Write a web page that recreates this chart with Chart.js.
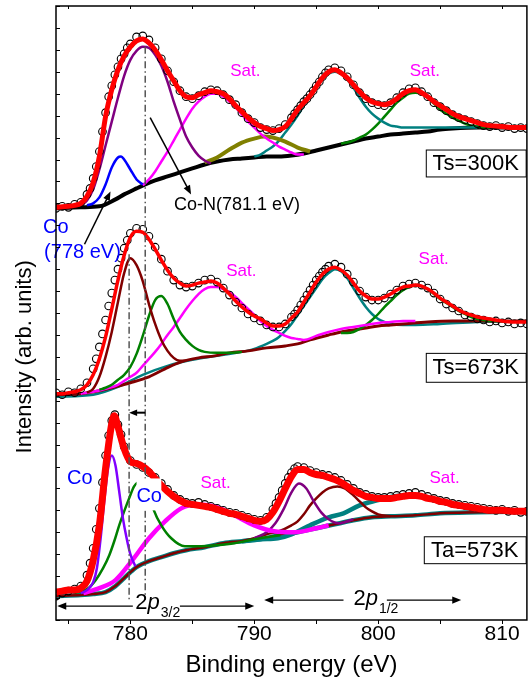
<!DOCTYPE html>
<html>
<head>
<meta charset="utf-8">
<script src="https://cdn.jsdelivr.net/npm/chart.js@4.4.0/dist/chart.umd.min.js"></script>
<style>
  html, body { margin: 0; padding: 0; background: #fff; }
  canvas { display: block; }
</style>
</head>
<body>
<canvas id="xps-chart" width="532" height="678"></canvas>
<script>
const FONT = '"Liberation Sans", Arial, sans-serif';

const xTicks = [780, 790, 800, 810];

// ---- Ts = 300 K (top spectrum) ----
const ts300Data = [[774,413],[774.5,415],[775,414],[775.5,417],[776,419],[776.5,427],[776.75,433],[777,443],[777.25,455],[777.5,470],[777.75,490],[778,509],[778.25,525],[778.5,536],[778.75,547],[779,555],[779.25,563],[779.5,568],[779.75,574],[780,578],[780.5,585],[781,586],[781.5,582],[782,574],[782.5,563],[783,551],[783.5,540],[784,531],[784.5,525],[785,523],[785.5,526],[786,530],[786.5,532],[787,531],[787.5,527],[788,522],[788.5,517],[789,509],[789.5,503],[790,499],[790.5,494],[791,492],[791.5,491],[792,493],[792.5,497],[793,504],[793.25,508],[793.5,512],[793.75,516],[794,520],[794.25,523],[794.5,527],[794.75,531],[795,536],[795.25,540],[795.5,545],[795.75,549],[796,552],[796.5,554],[797,551],[797.5,545],[798,537],[798.5,529],[799,523],[799.5,519],[800,517],[800.5,516],[801,519],[801.5,524],[802,529],[802.5,533],[803,534],[803.5,530],[804,525],[804.5,519],[805,515],[805.5,511],[806,507],[806.5,504],[807,502],[807.5,500],[808,498],[808.5,496],[809,495],[809.5,496],[810,494],[810.5,495],[811,493],[811.5,494],[812,493]];
const ts300Fit = [[774,414],[775,415],[775.5,416],[776,418],[776.5,425],[777,439],[777.5,465],[778,505],[778.5,532],[779,552],[779.5,566],[780,575],[780.5,581],[781,583],[781.5,579],[782,572],[782.5,562],[783,551],[783.5,541],[784,531],[784.5,525],[785,524],[785.5,527],[786,529],[786.5,531],[787,530],[787.5,528],[788,523],[788.5,516],[789,510],[789.5,504],[790,499],[790.5,495],[791,493],[791.5,491],[792,492],[792.5,495],[793,503],[793.5,512],[794,519],[794.5,526],[795,535],[795.5,544],[796,550],[796.5,552],[797,549],[797.5,544],[798,537],[798.5,530],[799,524],[799.5,520],[800,518],[800.5,517],[801,519],[801.5,523],[802,528],[802.5,531],[803,532],[803.5,529],[804,525],[804.5,520],[805,516],[805.5,512],[806,508],[806.5,505],[807,503],[807.5,501],[808,499],[808.5,497],[809,496],[810,495],[811,494],[812,494]];
const ts300Bg = [[774,413],[776,414],[777.5,415],[778.8,422],[779.5,427],[780.5,433],[781.2,437],[782,441],[783,445],[784,449],[785,453],[786,457],[787,460],[788,462],[789,463],[790,464],[791,465],[792,465],[793,466],[794,468],[795,471],[796,474],[797,477],[798,480],[799,483],[800,485],[801,487],[802,488],[803,489],[804,490],[805,492],[806,493],[808,494],[812,494]];
const ts300Co = [[776.5,416],[777,418],[777.5,424],[778,437],[778.5,454],[779,464],[779.25,465],[779.5,462],[780,452],[780.5,442],[781,437]];
const ts300CoN = [[776,416],[776.5,421],[777,432],[777.5,452],[778,476],[778.5,500],[779,524],[779.5,546],[780,562],[780.5,571],[781,575],[781.5,574],[782,567],[782.5,556],[783,540],[783.5,520],[784,502],[784.5,485],[785,474],[785.5,466],[786,461],[786.5,458]];
const ts300Sat = [[781,436],[781.5,442],[782,450],[782.5,460],[783,470],[783.5,481],[784,492],[784.5,503],[785,513],[785.5,520],[786,525],[786.5,528],[787,528],[787.5,525],[788,520],[788.5,514],[789,507],[789.5,500],[790,494],[790.5,488],[791,483],[791.5,479],[792,475],[792.5,472],[793,469],[793.5,467],[794,467]];
const ts300Loss = [[786,459],[787,464],[788,472],[789,479],[790,483],[790.8,485],[791.5,484],[792.5,480],[793.5,474],[794.5,470]];
const ts300P12 = [[790,465],[790.5,467],[791,471],[791.5,475],[792,481],[792.5,489],[793,497],[793.5,506],[794,516],[794.5,525],[795,534],[795.5,542],[796,548],[796.5,550],[797,548],[797.5,542],[798,534],[798.5,524],[799,515],[799.5,508],[800,503],[800.5,499],[801,496],[801.5,495],[802,494],[804,494],[806,494],[808,494]];
const ts300SatP12 = [[797,478],[797.5,479],[798,481],[798.5,484],[799,487],[799.5,492],[800,498],[800.5,505],[801,512],[801.5,519],[802,524],[802.5,528],[803,529],[803.5,528],[804,524],[804.5,518],[805,512],[805.5,508],[806,504],[806.5,501],[807,498],[807.5,496],[808,495],[808.5,494],[809,494]];

// ---- Ts = 673 K (middle spectrum) ----
const ts673Data = [[774,228],[774.5,226],[775,229],[775.5,228],[776,232],[776.5,238],[777,252],[777.25,262],[777.5,274],[777.75,287],[778,301],[778.25,315],[778.5,328],[778.75,341],[779,352],[779.25,363],[779.5,373],[779.75,381],[780,388],[780.5,393],[781,392],[781.5,385],[782,374],[782.5,362],[783,350],[783.5,341],[784,336],[784.5,334],[785,335],[785.5,338],[786,341],[786.5,342],[787,339],[787.5,333],[788,326],[788.5,319],[789,313],[789.5,307],[790,303],[790.5,300],[791,296],[791.5,294],[792,294],[792.5,297],[793,304],[793.25,307],[793.5,311],[793.75,316],[794,321],[794.25,326],[794.5,331],[794.75,336],[795,341],[795.25,345],[795.5,349],[795.75,352],[796,355],[796.5,357],[797,354],[797.5,347],[798,339],[798.5,330],[799,324],[799.5,321],[800,321],[800.5,323],[801,327],[801.5,331],[802,335],[802.5,337],[803,338],[803.5,336],[804,333],[804.5,328],[805,322],[805.5,317],[806,313],[806.5,310],[807,306],[807.5,304],[808,302],[808.5,301],[809,299],[809.5,300],[810,298],[810.5,299],[811,297],[811.5,298],[812,297]];
const ts673Fit = [[774,227],[774.5,227],[775,228],[775.5,229],[776,231],[776.5,236],[777,246],[777.5,262],[778,284],[778.5,312],[779,341],[779.5,366],[780,384],[780.5,390],[781,389],[781.5,382],[782,372],[782.5,361],[783,351],[783.5,343],[784,338],[784.5,335],[785,336],[785.5,338],[786,339],[786.5,340],[787,338],[787.5,333],[788,327],[788.5,320],[789,314],[789.5,309],[790,305],[790.5,302],[791,298],[791.5,295],[792,295],[792.5,297],[793,303],[793.5,309],[794,319],[794.5,329],[795,339],[795.5,347],[796,352],[796.5,354],[797,351],[797.5,346],[798,338],[798.5,330],[799,325],[799.5,322],[800,322],[800.5,324],[801,327],[801.5,331],[802,334],[802.5,335],[803,336],[803.5,335],[804,332],[804.5,328],[805,323],[805.5,319],[806,315],[806.5,311],[807,308],[807.5,306],[808,304],[808.5,303],[809,302],[810,300],[811,299],[812,299]];
const ts673Bg = [[774,226],[776,227],[777.5,230],[778.8,234],[780,238],[781.5,244],[782.8,252],[784.1,259],[785.5,263],[786.8,265],[788,268],[789.5,270],[791,273],[792.5,275],[793.5,277],[794.5,281],[796,286],[797,289],[798,291],[799,293],[800,295],[801,296],[802,297],[804,299],[806,300],[812,300]];
const ts673Main = [[776.5,228],[777,232],[777.5,244],[778,264],[778.5,289],[779,319],[779.5,348],[780,363],[780.5,356],[781,340],[781.5,317],[782,297],[782.5,281],[783,270],[783.5,263],[784,260],[784.5,260]];
const ts673Second = [[777.5,231],[778,233],[778.5,236],[779,241],[779.5,246],[780,254],[780.5,267],[781,285],[781.5,305],[782,321],[782.5,325],[783,317],[783.5,302],[784,289],[784.5,281],[785,275],[785.5,271],[786,269],[787,268],[788,268],[789,269]];
const ts673Sat = [[776,227],[777,229],[778,232],[779,236],[780,244],[780.5,248],[781,255],[781.5,262],[782,269],[782.5,277],[783,286],[783.5,294],[784,303],[784.5,312],[785,320],[785.5,327],[786,332],[786.5,334],[787,334],[787.5,332],[788,329],[788.5,324],[789,318],[789.5,312],[790,306],[790.5,300],[791,295],[791.5,291],[792,288],[792.5,285],[793,283],[793.5,282],[794,281],[795,285],[796,289],[797,292],[798,294],[799,296],[800,298],[801,299],[802,300],[803,300]];
const ts673P12 = [[774,224],[777,226],[779,234],[781,246],[783,255],[785,261],[787,265],[789,269],[790,272],[791,277],[791.5,280],[792,284],[792.5,290],[793,297],[793.5,306],[794,315],[794.5,324],[795,333],[795.5,342],[796,348],[796.5,352],[797,350],[797.5,343],[798,333],[798.5,323],[799,314],[799.5,307],[800,302],[800.5,299],[801,297],[802,296],[803,296],[805,297],[808,299],[812,300]];
const ts673SatP12 = [[797,288],[797.5,288],[798,289],[798.5,292],[799,296],[799.5,301],[800,307],[800.5,314],[801,320],[801.5,326],[802,331],[802.5,334],[803,336],[803.5,335],[804,332],[804.5,327],[805,322],[805.5,318],[806,314],[806.5,310],[807,307],[807.5,304],[808,302],[808.5,301],[809,300],[810,300]];

// ---- Ta = 573 K (bottom spectrum) ----
const ta573Data = [[774,24],[774.5,27],[775,29],[775.5,31],[776,34],[776.5,45],[776.75,57],[777,72],[777.25,91],[777.5,112],[777.75,138],[778,165],[778.25,185],[778.5,200],[778.75,206],[779,196],[779.25,186],[779.5,174],[780,160],[780.5,156],[781,153],[781.5,148],[782,143],[782.5,137],[783,131],[783.5,125],[784,121],[784.5,118],[785,117],[785.5,118],[786,116],[786.5,114],[787,112],[787.5,110],[788,108],[788.5,107],[789,105],[789.5,103],[790,101],[790.5,100],[791,103],[791.5,111],[791.75,117],[792,123],[792.25,130],[792.5,137],[792.75,143],[793,148],[793.25,152],[793.5,154],[794,153],[794.5,150],[795,148],[795.5,146],[796,145],[796.5,143],[797,140],[797.5,136],[798,132],[798.5,128],[799,126],[799.5,124],[800,123],[800.5,123],[801,124],[801.5,125],[802,126],[802.5,127],[803,128],[803.5,126],[804,124],[804.5,122],[805,120],[805.5,119],[806,117],[806.5,116],[807,115],[807.5,114],[808,113],[808.5,112],[809,111],[809.5,110],[810,111],[810.5,109],[811,110],[811.5,108],[812,109]];
const ta573Fit = [[774,28],[774.5,29],[775,30],[775.5,30],[776,32],[776.5,39],[777,60],[777.5,95],[778,152],[778.5,197],[778.7,205],[779,194],[779.5,172],[780,159],[780.5,157],[781,154],[781.5,149],[782,142],[782.5,135],[783,129],[783.5,124],[784,120],[784.5,117],[785,116],[785.5,115],[786,114],[786.5,113],[787,111],[787.5,109],[788,107],[788.5,106],[789,104],[789.5,102],[790,100],[790.5,99],[791,101],[791.5,108],[792,119],[792.5,132],[793,144],[793.5,151],[794,151],[794.5,148],[795,146],[795.5,145],[796,143],[796.5,141],[797,138],[797.5,134],[798,130],[798.5,127],[799,124],[799.5,123],[800,122],[801,122],[801.5,123],[802,124],[802.5,125],[803,125],[803.5,124],[804,122],[804.5,121],[805,119],[805.5,118],[806,116],[806.5,115],[807,114],[807.5,113],[808,112],[808.5,111],[809,110],[810,110],[811,109],[812,109]];
const ta573Bg = [[774,24],[776,25],[777,26],[778,28],[778.8,34],[779.5,42],[780.1,49],[780.5,53],[781.5,59],[782.5,63],[783.5,67],[784.5,70],[786,73],[787.5,77],[789,79],[790.5,81],[792,85],[793.5,88],[795,92],[796.5,96],[798,100],[799.5,103],[801,104],[803,105],[805,107],[808,108],[812,109]];
const ta573Co = [[776,27],[776.5,30],[777,38],[777.3,52],[777.6,82],[777.9,120],[778.2,152],[778.5,165],[778.8,155],[779.1,129],[779.4,102],[779.7,82],[780,66],[780.4,54]];
const ta573Second = [[775.5,27],[776.5,31],[777.2,40],[777.8,52],[778.3,65],[778.7,79],[779.1,95],[779.5,109],[779.9,122],[780.3,134],[780.7,139],[781.1,140],[781.5,128],[781.9,110],[782.5,95],[783.3,82],[784.4,74],[785.7,74],[787,75],[788.4,77],[790,81],[792.1,85]];
const ta573Sat = [[776.2,27],[777.5,32],[778.8,40],[780.1,59],[781.5,82],[782.8,99],[784.1,112],[785.2,116],[786.8,114],[788.4,105],[790,95],[791.6,89],[793.2,88],[795,92],[796,95]];
const ta573CoP12 = [[790,82],[791,88],[791.7,97],[792.4,112],[793,128],[793.6,137],[794.2,132],[794.8,119],[795.4,108],[796,101],[796.8,97],[798,101]];
const ta573SecondP12 = [[789,79],[790,82],[791,86],[792,89],[793,95],[793.5,99],[794,106],[794.5,115],[795,122],[795.5,128],[796,132],[796.7,134],[797.3,132],[798,125],[798.5,119],[799,113],[799.5,109],[800,106],[801,104]];
const ta573SatP12 = [[789,79],[790.5,81],[791.9,82],[793,86],[794.5,95],[796,103],[797.2,107],[798.5,115],[799.9,120],[801.2,124],[802,125],[803.1,125],[804,123],[804.7,120],[805.8,117],[806.8,114],[808,111],[808.9,110],[810,109],[812,109]];

const pts = arr => arr.map(([x, y]) => ({ x, y }));

function curve(arr, color, width, order = 4) {
  return {
    data: pts(arr), showLine: true, borderColor: color, borderWidth: width,
    pointRadius: 0, cubicInterpolationMode: 'monotone', fill: false, order
  };
}

function measured(arr) {
  return {
    data: pts(arr), showLine: false, pointRadius: 3.8, pointStyle: 'circle',
    pointBorderColor: '#000', pointBorderWidth: 1.1, pointBackgroundColor: 'rgba(0,0,0,0)', order: 2
  };
}

const RED = '#ff0000', BLUE = '#0000ff', PURPLE = '#800080', MAGENTA = '#ff00ff',
      OLIVE = '#808000', TEAL = '#008080', GREEN = '#008000', BROWN = '#800000', VIOLET = '#8000ff';

const datasets = [
  // 300 K
  curve(ts300Bg, '#000', 4, 6),
  curve(ts300Co, BLUE, 2.5),
  curve(ts300CoN, PURPLE, 2.5),
  curve(ts300Sat, MAGENTA, 2.5),
  curve(ts300Loss, OLIVE, 4),
  curve(ts300P12, TEAL, 2.5),
  curve(ts300SatP12, GREEN, 2.5),
  measured(ts300Data),
  curve(ts300Fit, RED, 5, 1),
  // 673 K
  curve(ts673P12, TEAL, 2.5, 6),
  curve(ts673Bg, BROWN, 3, 5),
  curve(ts673Main, BROWN, 2.5),
  curve(ts673Second, GREEN, 2.5),
  curve(ts673Sat, MAGENTA, 2.5),
  curve(ts673SatP12, GREEN, 2.5),
  measured(ts673Data),
  curve(ts673Fit, RED, 3.5, 1),
  // 573 K
  curve(ta573Bg, TEAL, 4.5, 6),
  curve(ta573Bg, BROWN, 2.5, 5),
  curve(ta573Co, VIOLET, 2.5),
  curve(ta573Second, GREEN, 2.5),
  curve(ta573Sat, MAGENTA, 4.5),
  curve(ta573CoP12, PURPLE, 2.5),
  curve(ta573SecondP12, BROWN, 2.5),
  curve(ta573SatP12, TEAL, 4.5),
  measured(ta573Data),
  curve(ta573Fit, RED, 7, 1)
];

// annotation text and arrows, in energy / intensity units
function arrowLine(ctx, x1, y1, x2, y2, head, width) {
  const ang = Math.atan2(y2 - y1, x2 - x1);
  ctx.lineWidth = width;
  ctx.beginPath();
  ctx.moveTo(x1, y1);
  ctx.lineTo(x2 - Math.cos(ang) * head * 0.8, y2 - Math.sin(ang) * head * 0.8);
  ctx.stroke();
  ctx.beginPath();
  ctx.moveTo(x2, y2);
  ctx.lineTo(x2 - head * Math.cos(ang) + head * 0.4 * Math.sin(ang), y2 - head * Math.sin(ang) - head * 0.4 * Math.cos(ang));
  ctx.lineTo(x2 - head * Math.cos(ang) - head * 0.4 * Math.sin(ang), y2 - head * Math.sin(ang) + head * 0.4 * Math.cos(ang));
  ctx.closePath();
  ctx.fill();
}

function text(ctx, str, x, y, size, color, align = 'center') {
  ctx.font = size + 'px ' + FONT;
  ctx.fillStyle = color;
  ctx.textAlign = align;
  ctx.textBaseline = 'middle';
  ctx.fillText(str, x, y);
}

function term(ctx, x, base, sub) {
  ctx.fillStyle = '#000';
  ctx.textAlign = 'left';
  ctx.textBaseline = 'alphabetic';
  ctx.font = '22px ' + FONT;
  ctx.fillText('2', x, base);
  let w = ctx.measureText('2').width;
  ctx.font = 'italic 22px ' + FONT;
  ctx.fillText('p', x + w, base);
  w += ctx.measureText('p').width;
  ctx.font = '14px ' + FONT;
  ctx.fillText(sub, x + w + 1, base + 8);
}

const decor = {
  id: 'decor',
  afterDatasetsDraw(chart) {
    const { ctx, chartArea: a, scales: { x, y } } = chart;
    const X = v => x.getPixelForValue(v), Y = v => y.getPixelForValue(v);
    ctx.save();

    // dash-dot guides at the two 2p3/2 positions
    ctx.strokeStyle = '#555';
    ctx.lineWidth = 1.5;
    ctx.setLineDash([7, 3, 1.5, 3]);
    ctx.beginPath();
    ctx.moveTo(X(781.2), Y(575)); ctx.lineTo(X(781.2), Y(20));
    ctx.moveTo(X(779.9), Y(367)); ctx.lineTo(X(779.9), Y(20));
    ctx.stroke();
    ctx.setLineDash([]);

    ctx.strokeStyle = '#000';
    ctx.fillStyle = '#000';
    arrowLine(ctx, X(781.2), Y(208), X(779.9), Y(208), 8, 2);
    arrowLine(ctx, X(781.6), Y(504), X(784.9), Y(427), 9, 1.5);
    arrowLine(ctx, X(776.3), Y(377), X(778.4), Y(430), 9, 1.5);

    // spin-orbit ranges
    arrowLine(ctx, X(780.2), Y(14), X(774.1), Y(14), 9, 1.2);
    arrowLine(ctx, X(784.0), Y(14), X(790.0), Y(14), 9, 1.2);
    arrowLine(ctx, X(797.2), Y(20), X(790.8), Y(20), 9, 1.2);
    arrowLine(ctx, X(800.7), Y(20), X(806.7), Y(20), 9, 1.2);
    term(ctx, X(780.4), Y(11), '3/2');
    term(ctx, X(798.0), Y(15), '1/2');

    text(ctx, 'Co-N(781.1 eV)', X(783.52), Y(416), 18, '#000', 'left');
    text(ctx, 'Co', X(772.96), Y(394), 20, BLUE, 'left');
    text(ctx, '(778 eV)', X(773.04), Y(369), 20, BLUE, 'left');

    text(ctx, 'Sat.', X(789.28), Y(550), 17, MAGENTA);
    text(ctx, 'Sat.', X(803.76), Y(550), 17, MAGENTA);
    text(ctx, 'Sat.', X(788.96), Y(350), 17, MAGENTA);
    text(ctx, 'Sat.', X(804.48), Y(362), 17, MAGENTA);
    text(ctx, 'Sat.', X(786.88), Y(137), 17, MAGENTA);
    text(ctx, 'Sat.', X(805.36), Y(142), 17, MAGENTA);

    text(ctx, 'Co', X(775.92), Y(142), 20, BLUE);
    ctx.fillStyle = '#fff';
    ctx.fillRect(X(780.5), Y(142), X(782.5) - X(780.5), Y(110) - Y(142));
    text(ctx, 'Co', X(781.52), Y(124), 20, BLUE);

    // sample boxes
    [['Ts=300K', 803.84, 472, 445], ['Ts=673K', 803.84, 268, 239], ['Ta=573K', 803.68, 84, 57]]
      .forEach(([s, e0, top, bot]) => {
        const l = X(e0), r = X(811.9), t = Y(top), b = Y(bot);
        ctx.fillStyle = '#fff';
        ctx.fillRect(l, t, r - l, b - t);
        ctx.strokeStyle = '#000';
        ctx.lineWidth = 1;
        ctx.strokeRect(l + 0.5, t + 0.5, r - l, b - t);
        text(ctx, s, (l + r) / 2, (t + b) / 2 + 1, 22, '#000');
      });

    // frame with tick marks
    ctx.strokeStyle = '#000';
    ctx.lineWidth = 1.5;
    ctx.strokeRect(a.left, a.top, a.right - a.left, a.bottom - a.top);
    ctx.lineWidth = 1;
    ctx.beginPath();
    for (let e = 775; e <= 810; e += 5) {
      const p = Math.round(X(e)) + 0.5;
      ctx.moveTo(p, a.bottom); ctx.lineTo(p, a.bottom + 4);
      ctx.moveTo(p, a.top); ctx.lineTo(p, a.top + 3);
    }
    y.ticks.forEach(t => {
      const p = Math.round(Y(t.value)) + 0.5;
      ctx.moveTo(a.left, p); ctx.lineTo(a.left + 4, p);
    });
    ctx.stroke();

    // vertical axis title
    ctx.translate(25, Y(264));
    ctx.rotate(-Math.PI / 2);
    text(ctx, 'Intensity (arb. units)', 0, 0, 22, '#000');
    ctx.restore();
  }
};

Chart.defaults.font.family = FONT;
Chart.defaults.color = '#000';

new Chart(document.getElementById('xps-chart'), {
  type: 'scatter',
  data: { datasets },
  options: {
    responsive: false,
    animation: false,
    events: [],
    layout: { padding: { left: 56, right: 1, top: 6, bottom: 0.8 } },
    plugins: { legend: { display: false }, tooltip: { enabled: false } },
    scales: {
      x: {
        type: 'linear', min: 774, max: 812,
        afterBuildTicks: s => { s.ticks = xTicks.map(v => ({ value: v })); },
        grid: { display: false, drawTicks: false },
        border: { display: false },
        ticks: { font: { size: 21 }, padding: 2, maxRotation: 0 },
        title: { display: true, text: 'Binding energy (eV)', font: { size: 24, lineHeight: 1 }, padding: { top: 4, bottom: 0 } }
      },
      y: {
        display: false, min: 0, max: 616,
        ticks: { stepSize: 11 }
      }
    }
  },
  plugins: [decor]
});
</script>
</body>
</html>
